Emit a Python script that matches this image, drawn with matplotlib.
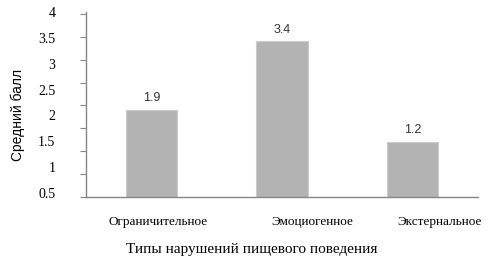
import numpy as np
import matplotlib.pyplot as plt
import matplotlib.transforms as mtransforms

# %% Data

categories = ['Ограничительное', 'Эмоциогенное', 'Экстернальное']
scores = [1.9, 3.4, 1.2]
ytick_labels = ['4', '3.5', '3', '2.5', '2', '1.5', '1', '0.5']

# %% Plot

fig = plt.figure(figsize=(4.92, 2.61), dpi=100)
ax = fig.add_axes([86/492, 1 - 197/261, 392/492, 185/261])

x = np.arange(len(categories))
bars = ax.bar(x, scores, width=0.395, color='#b3b3b3', edgecolor='#cccccc', linewidth=0.8)

for xi, v in zip(x, scores):
    ax.annotate(f'{v:.1f}', (xi, v), xytext=(0, 4), textcoords='offset points',
                ha='center', va='bottom', fontsize=9, family='Liberation Sans', color='#333333')

ax.set_xlim(-0.5, 2.5)
ax.set_ylim(0, 4)

# tick marks every 0.5, labels spread as in the original
ax.set_yticks(np.arange(0, 4.01, 0.5), minor=True)
label_pos = np.linspace(4.04, 0.09, len(ytick_labels))
ax.set_yticks(label_pos, ytick_labels)
ax.tick_params(axis='y', which='major', length=0, pad=22, labelsize=10)
ax.tick_params(axis='y', which='minor', length=4, width=0.8, color='#868686', direction='out')
for lab in ax.get_yticklabels():
    lab.set_family('Liberation Serif')

ax.set_xticks(x, categories)
ax.tick_params(axis='x', length=0, pad=14, labelsize=9.5)
offsets = [7, 30, 27]
for lab, dx in zip(ax.get_xticklabels(), offsets):
    lab.set_family('Liberation Serif')
    lab.set_transform(lab.get_transform() + mtransforms.ScaledTranslation(dx/100, 0, fig.dpi_scale_trans))

for s in ['top', 'right']:
    ax.spines[s].set_visible(False)
for s in ['left', 'bottom']:
    ax.spines[s].set_color('#868686')
    ax.spines[s].set_linewidth(1.0)

fig.text(252/492, 1 - 249/261, 'Типы нарушений пищевого поведения', ha='center', va='center',
         family='Liberation Serif', fontsize=11)
fig.text(18/492, 1 - 115/261, 'Средний балл', ha='center', va='center', rotation=90,
         family='Liberation Sans', fontsize=10)

fig.savefig('out.png', dpi=100)
